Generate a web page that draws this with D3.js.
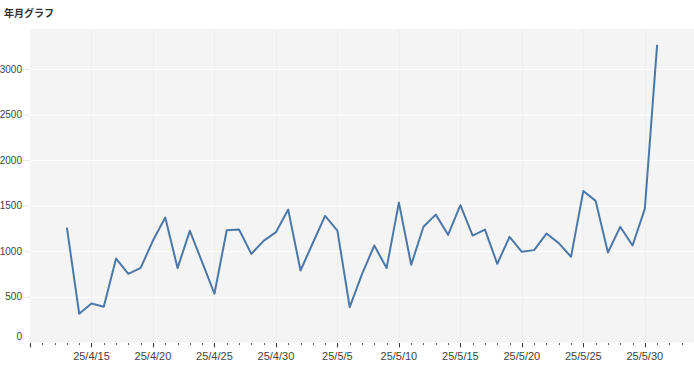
<!DOCTYPE html>
<html>
<head>
<meta charset="utf-8">
<script src="https://cdn.jsdelivr.net/npm/d3@7"></script>
<style>
  body { margin: 0; background: #fff; }
  svg { display: block; font-family: "Liberation Sans", Arial, sans-serif; }
  .title { font-family: "Noto Sans CJK JP", sans-serif; font-size: 10px; font-weight: bold; fill: #333; }
  .y.axis text { font-size: 10px; fill: #444; }
  .x.axis text { font-size: 11px; fill: #444; }
</style>
</head>
<body>
<svg id="chart"></svg>
<script>
var title = "年月グラフ";
var startDate = "2025-04-13";
var values = [
  1260, 314, 427, 390, 920, 752, 818, 1117, 1370, 815,
  1224, 880, 533, 1231, 1238, 971, 1114, 1209, 1457, 788,
  1090, 1388, 1227, 387, 749, 1063, 815, 1534, 851, 1268,
  1402, 1180, 1505, 1172, 1238, 862, 1158, 993, 1012, 1194,
  1089, 939, 1662, 1553, 986, 1268, 1063, 1465, 3266
];
var xDomain = ["2025-04-10", "2025-06-03"];
var yMax = 3440;
var yTicks = [0, 500, 1000, 1500, 2000, 2500, 3000];

var width = 694, height = 373;
var margin = {top: 29, right: 0, bottom: 30, left: 30};
var plotW = width - margin.left - margin.right;
var plotH = height - margin.top - margin.bottom - 0.7;

var parse = d3.timeParse("%Y-%m-%d");
var t0 = parse(startDate);
var data = values.map(function(v, i) {
  return {date: d3.timeDay.offset(t0, i), value: v};
});

var xScale = d3.scaleTime()
    .domain(xDomain.map(parse))
    .range([0, plotW]);
var yScale = d3.scaleLinear()
    .domain([0, yMax])
    .range([plotH, 0]);

var svg = d3.select("#chart")
    .attr("width", width)
    .attr("height", height);

svg.append("text")
    .attr("class", "title")
    .attr("x", 4)
    .attr("y", 17)
    .text(title);

var chart = svg.append("g")
    .attr("transform", `translate(${margin.left}, ${margin.top})`);

chart.append("rect")
    .attr("width", plotW)
    .attr("height", plotH)
    .attr("fill", "#f4f4f4");

// major ticks every 5 days
var allDays = d3.timeDay.range(xScale.domain()[0], d3.timeDay.offset(xScale.domain()[1], 1));
var majorTicks = allDays.filter(function(d, i) { return i % 5 == 0; });

// vertical grid
chart.selectAll("line.vgrid")
    .data(majorTicks.slice(1))
    .enter().append("line")
        .attr("class", "vgrid")
        .attr("x1", function(d) { return Math.round(xScale(d)) + 0.5; })
        .attr("x2", function(d) { return Math.round(xScale(d)) + 0.5; })
        .attr("y1", 0)
        .attr("y2", plotH)
        .attr("stroke", "#eeeeee");

// horizontal grid + y labels
var yAxis = d3.axisLeft(yScale)
    .tickValues(yTicks)
    .tickFormat(d3.format("d"))
    .tickSizeInner(-plotW)
    .tickSizeOuter(0)
    .tickPadding(8);
var yg = chart.append("g")
    .attr("class", "y axis")
    .call(yAxis);
yg.select(".domain").remove();
yg.selectAll(".tick line")
    .attr("stroke", "#fff");
yg.selectAll(".tick")
    .filter(function(d) { return d == 0; })
    .select("line").remove();
yg.selectAll(".tick text")
    .attr("dy", function(d) { return d == 0 ? "-0.3em" : "0.32em"; });
// light tick stubs in the margin
yg.selectAll(".tick")
    .filter(function(d) { return d != 0; })
    .append("line")
        .attr("x1", -7)
        .attr("x2", 0)
        .attr("stroke", "#e6e6e6");

// x axis
var xg = chart.append("g")
    .attr("class", "x axis")
    .attr("transform", `translate(0, ${plotH})`);
xg.selectAll("line.minor")
    .data(allDays)
    .enter().append("line")
        .attr("class", "minor")
        .attr("x1", function(d) { return Math.round(xScale(d)) + 0.5; })
        .attr("x2", function(d) { return Math.round(xScale(d)) + 0.5; })
        .attr("y1", 1)
        .attr("y2", 2.5)
        .attr("stroke", "#333");
xg.selectAll("line.major")
    .data(majorTicks)
    .enter().append("line")
        .attr("class", "major")
        .attr("x1", function(d) { return Math.round(xScale(d)) + 0.5; })
        .attr("x2", function(d) { return Math.round(xScale(d)) + 0.5; })
        .attr("y1", 1)
        .attr("y2", 5)
        .attr("stroke", "#333");
var fmt = d3.timeFormat("%y/%-m/%-d");
xg.selectAll("text")
    .data(majorTicks.slice(1))
    .enter().append("text")
        .attr("x", function(d) { return xScale(d); })
        .attr("y", 17.5)
        .style("text-anchor", "middle")
        .text(fmt);

// the line
var line = d3.line()
    .x(function(d) { return xScale(d.date); })
    .y(function(d) { return yScale(d.value); });
chart.append("path")
    .datum(data)
    .attr("d", line)
    .attr("fill", "none")
    .attr("stroke", "#4c78a8")
    .attr("stroke-width", 2)
    .attr("stroke-linejoin", "round");
</script>
</body>
</html>
